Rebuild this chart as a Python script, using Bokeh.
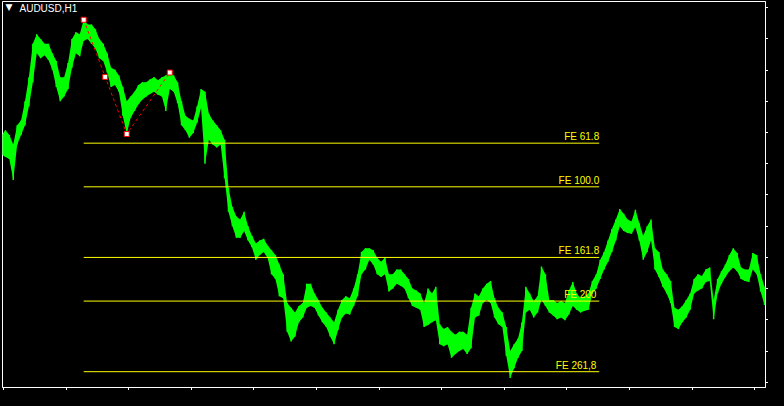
import numpy as np
from bokeh.plotting import figure
from bokeh.models import (ColumnDataSource, FixedTicker, Label, Range1d,
                          GlobalInlineStyleSheet, CustomJSTickFormatter)
from bokeh.core.properties import value
from bokeh.embed import file_html
from bokeh.resources import INLINE

# ---------------- data (AUDUSD H1) ----------------
symbol = "AUDUSD,H1"

high = [0.7860, 0.7865, 0.7860, 0.7850, 0.7870, 0.7875, 0.7895, 0.7920, 0.7955, 0.7965,
        0.7960, 0.7955, 0.7955, 0.7945, 0.7937, 0.7920, 0.7920, 0.7935, 0.7960, 0.7967,
        0.7965, 0.7980, 0.7975, 0.7975, 0.7970, 0.7960, 0.7955, 0.7945, 0.7930, 0.7928,
        0.7922, 0.7910, 0.7895, 0.7900, 0.7905, 0.7912, 0.7915, 0.7915, 0.7918, 0.7920,
        0.7917, 0.7920, 0.7922, 0.7925, 0.7922, 0.7915, 0.7895, 0.7880, 0.7877, 0.7875,
        0.7890, 0.7908, 0.7905, 0.7882, 0.7875, 0.7870, 0.7865, 0.7855, 0.7805, 0.7785,
        0.7775, 0.7772, 0.7780, 0.7765, 0.7755, 0.7747, 0.7750, 0.7752, 0.7745, 0.7740,
        0.7735, 0.7725, 0.7715, 0.7685, 0.7680, 0.7675, 0.7682, 0.7685, 0.7705, 0.7705,
        0.7695, 0.7688, 0.7680, 0.7675, 0.7670, 0.7665, 0.7678, 0.7688, 0.7692, 0.7690,
        0.7700, 0.7715, 0.7738, 0.7742, 0.7742, 0.7740, 0.7732, 0.7728, 0.7732, 0.7715,
        0.7715, 0.7720, 0.7720, 0.7715, 0.7710, 0.7700, 0.7698, 0.7695, 0.7685, 0.7700,
        0.7695, 0.7702, 0.7663, 0.7658, 0.7660, 0.7655, 0.7652, 0.7655, 0.7655, 0.7652,
        0.7680, 0.7695, 0.7692, 0.7700, 0.7705, 0.7708, 0.7690, 0.7680, 0.7675, 0.7660,
        0.7635, 0.7642, 0.7648, 0.7665, 0.7702, 0.7695, 0.7687, 0.7692, 0.7723, 0.7715,
        0.7688, 0.7688, 0.7685, 0.7687, 0.7685, 0.7698, 0.7707, 0.7695, 0.7690, 0.7692,
        0.7695, 0.7708, 0.7715, 0.7730, 0.7738, 0.7750, 0.7762, 0.7772, 0.7783, 0.7778,
        0.7772, 0.7770, 0.7782, 0.7768, 0.7755, 0.7765, 0.7772, 0.7742, 0.7738, 0.7720,
        0.7715, 0.7708, 0.7680, 0.7678, 0.7682, 0.7688, 0.7695, 0.7710, 0.7715, 0.7713,
        0.7720, 0.7722, 0.7688, 0.7710, 0.7718, 0.7725, 0.7735, 0.7742, 0.7737, 0.7722,
        0.7720, 0.7720, 0.7737, 0.7735, 0.7715, 0.7702]

low = [0.7840, 0.7837, 0.7835, 0.7813, 0.7850, 0.7860, 0.7870, 0.7890, 0.7915, 0.7945,
       0.7940, 0.7943, 0.7938, 0.7928, 0.7910, 0.7895, 0.7900, 0.7908, 0.7930, 0.7945,
       0.7942, 0.7958, 0.7960, 0.7955, 0.7950, 0.7940, 0.7937, 0.7925, 0.7910, 0.7912,
       0.7905, 0.7880, 0.7861, 0.7878, 0.7885, 0.7892, 0.7897, 0.7900, 0.7903, 0.7905,
       0.7902, 0.7900, 0.7885, 0.7908, 0.7905, 0.7893, 0.7870, 0.7865, 0.7857, 0.7862,
       0.7873, 0.7888, 0.7830, 0.7855, 0.7850, 0.7847, 0.7850, 0.7815, 0.7780, 0.7765,
       0.7753, 0.7753, 0.7760, 0.7750, 0.7743, 0.7730, 0.7735, 0.7738, 0.7732, 0.7715,
       0.7710, 0.7692, 0.7690, 0.7655, 0.7645, 0.7650, 0.7665, 0.7670, 0.7680, 0.7682,
       0.7680, 0.7672, 0.7665, 0.7660, 0.7650, 0.7642, 0.7657, 0.7670, 0.7674, 0.7673,
       0.7682, 0.7692, 0.7715, 0.7720, 0.7730, 0.7725, 0.7715, 0.7712, 0.7715, 0.7697,
       0.7700, 0.7705, 0.7703, 0.7700, 0.7690, 0.7682, 0.7680, 0.7678, 0.7660, 0.7662,
       0.7665, 0.7667, 0.7642, 0.7640, 0.7642, 0.7628, 0.7632, 0.7635, 0.7637, 0.7632,
       0.7638, 0.7670, 0.7672, 0.7685, 0.7688, 0.7685, 0.7670, 0.7663, 0.7660, 0.7630,
       0.7607, 0.7617, 0.7628, 0.7635, 0.7675, 0.7678, 0.7670, 0.7675, 0.7688, 0.7682,
       0.7675, 0.7672, 0.7668, 0.7670, 0.7667, 0.7673, 0.7682, 0.7678, 0.7675, 0.7677,
       0.7678, 0.7695, 0.7700, 0.7710, 0.7720, 0.7728, 0.7738, 0.7750, 0.7765, 0.7760,
       0.7758, 0.7757, 0.7764, 0.7750, 0.7730, 0.7738, 0.7750, 0.7720, 0.7712, 0.7702,
       0.7695, 0.7685, 0.7660, 0.7658, 0.7665, 0.7670, 0.7678, 0.7695, 0.7698, 0.7700,
       0.7707, 0.7708, 0.7668, 0.7695, 0.7705, 0.7712, 0.7718, 0.7722, 0.7718, 0.7710,
       0.7708, 0.7707, 0.7720, 0.7715, 0.7697, 0.7683]

bars = list(range(len(high)))

# Fibonacci expansion anchors (bar index, price)
fe_a = (21, 0.7980)
fe_b = (32, 0.7861)
fe_c = (43, 0.7925)
fe_end_bar = 152.75
fe_ratios = [0.618, 1.000, 1.618, 2.000, 2.618]
fe_labels = ["FE 61.8", "FE 100.0", "FE 161.8", "FE  200", "FE  261,8"]

# ---------------- figure ----------------
GREEN = "#00FF00"
YELLOW = "#FFFF00"

p = figure(width=768, height=390, output_backend="svg", toolbar_location=None,
           x_range=Range1d(0.25, 195.25), y_range=Range1d(0.7597, 0.7999),
           y_axis_location="right",
           background_fill_color="black", border_fill_color="black",
           outline_line_color="white", outline_line_width=1,
           min_border_left=2, min_border_top=1, min_border_right=0, min_border_bottom=0)
p.stylesheets = [GlobalInlineStyleSheet(css="body { background: #000000; }")]
p.grid.visible = False

blank = CustomJSTickFormatter(code="return '';")
for ax in (p.xaxis[0], p.yaxis[0]):
    ax.axis_line_color = "white"
    ax.major_tick_line_color = "white"
    ax.major_tick_out = 3
    ax.major_tick_in = 0
    ax.minor_tick_line_color = None
    ax.formatter = blank
    ax.major_label_text_font_size = "1px"
    ax.major_label_text_color = None
    ax.major_label_standoff = 0

p.xaxis.ticker = FixedTicker(ticks=list(np.arange(0.5, len(high), 16)))
p.yaxis.ticker = FixedTicker(ticks=list(0.7700 + 0.00325 * np.arange(-3, 10)))

# price bars (high-low band)
src = ColumnDataSource(dict(x=bars, high=high, low=low))
p.varea(x="x", y1="low", y2="high", source=src, fill_color=GREEN)
p.segment(x0="x", x1="x", y0="low", y1="high", source=src,
          line_color=GREEN, line_width=1.5)

# Fibonacci expansion levels
rng = fe_a[1] - fe_b[1]
levels = [fe_c[1] - r * rng for r in fe_ratios]
p.segment(x0=[fe_a[0]] * len(levels), x1=[fe_end_bar] * len(levels),
          y0=levels, y1=levels, line_color=YELLOW, line_width=1)
p.text(x=[fe_end_bar] * len(levels), y=levels, text=fe_labels,
       text_color=YELLOW, text_align="right", text_baseline="bottom",
       text_font=value("Liberation Sans"), text_font_size="10px", y_offset=-1)

# trend lines of the expansion tool
p.line([fe_a[0], fe_b[0], fe_c[0]], [fe_a[1], fe_b[1], fe_c[1]],
       line_color="red", line_dash="3 3", line_width=1)
mid = ((fe_a[0] + fe_b[0]) / 2, (fe_a[1] + fe_b[1]) / 2)
p.scatter([fe_a[0], mid[0], fe_b[0], fe_c[0]], [fe_a[1], mid[1], fe_b[1], fe_c[1]],
          marker="square", size=5, fill_color="white", line_color="red", line_width=1)

# symbol caption
p.add_layout(Label(x=17, y=385, x_units="screen", y_units="screen", text=symbol,
                   text_color="white", text_font="Liberation Sans",
                   text_font_size="10px", text_baseline="top"))
p.add_layout(Label(x=3, y=386, x_units="screen", y_units="screen", text="▼",
                   text_color="white", text_font="DejaVu Sans",
                   text_font_size="9px", text_baseline="top"))

open("out.html", "w").write(file_html(p, INLINE))
